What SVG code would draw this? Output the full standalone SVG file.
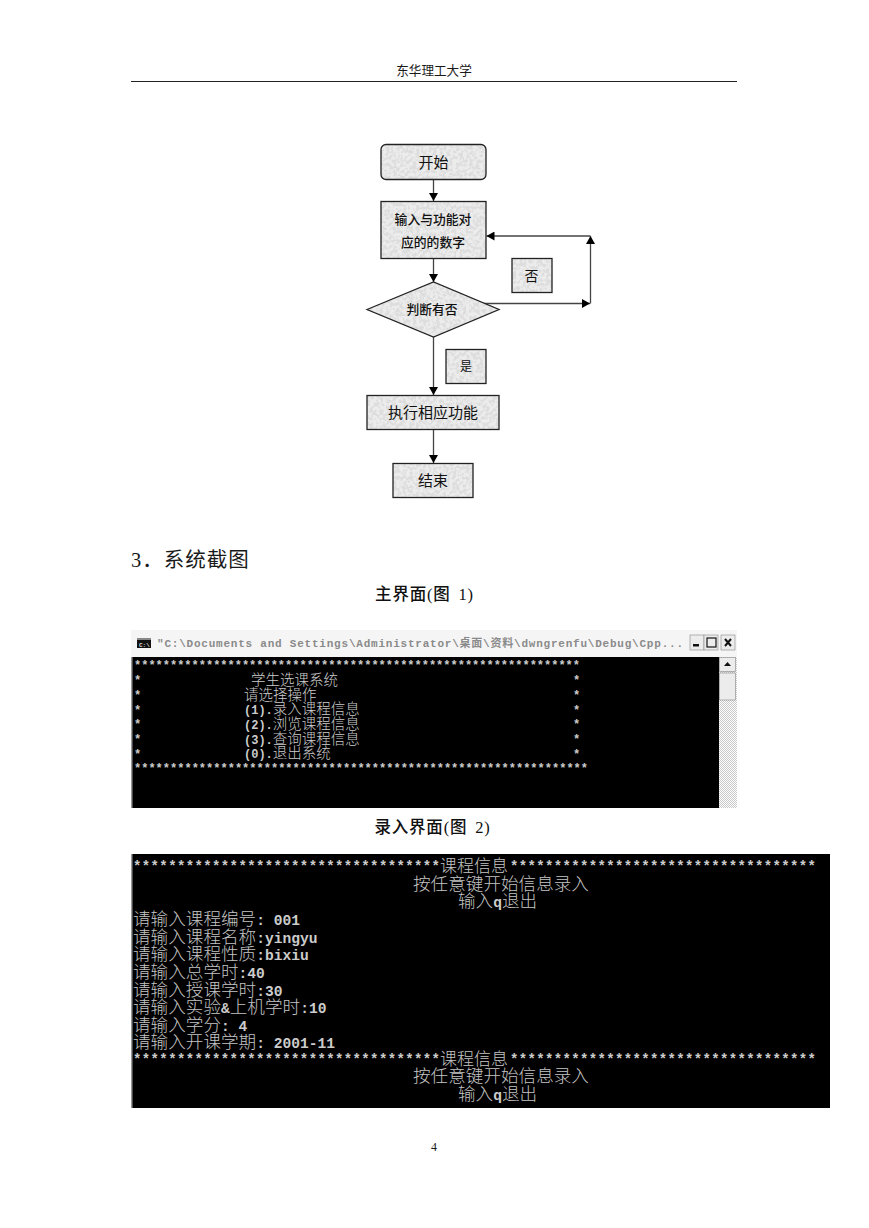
<svg xmlns="http://www.w3.org/2000/svg" width="869" height="1228" viewBox="0 0 869 1228">
<style>
text{font-family:"Liberation Serif","Noto Sans CJK SC",serif}
.n{fill:#ececec}
.o{fill:none;stroke:#222;stroke-width:1.3}
.lb{font-family:"Noto Sans CJK SC",sans-serif;fill:#111;text-anchor:middle}
.c{fill:none;stroke:#444;stroke-width:1.3}
.cn{font-family:"Noto Sans CJK SC",sans-serif;font-size:14.5px;fill:#ccc;font-weight:300}
.cb{font-family:"Noto Sans CJK SC",sans-serif;font-size:17.6px;fill:#c4c4c4;font-weight:300}
.m1{font-family:"Liberation Mono",monospace;font-weight:700;font-size:12px;fill:#ccc}
.m2{font-family:"Liberation Mono",monospace;font-weight:700;font-size:14.6px;fill:#ccc}
.st{font-family:"Liberation Mono",monospace;font-weight:700;fill:#ccc}
.h{fill:#1a1a1a}
.cap{font-size:16.500px;font-weight:500;letter-spacing:.8px;word-spacing:3px;fill:#111;text-anchor:middle}
.btn{fill:#ececec;stroke:#888;stroke-width:.6}
</style>
<defs>
<marker id="a" markerUnits="userSpaceOnUse" markerWidth="9" markerHeight="9" refX="8" refY="4.5" orient="auto"><path d="M0 0L8 4.5L0 9Z" fill="#000"/></marker>
<pattern id="d" width="2" height="2" patternUnits="userSpaceOnUse"><rect width="2" height="2" fill="#fff"/><rect width="1" height="1" fill="#c8c8c8"/><rect x="1" y="1" width="1" height="1" fill="#c8c8c8"/></pattern>
<filter id="tex" x="0" y="0" width="100%" height="100%"><feTurbulence type="fractalNoise" baseFrequency=".3" numOctaves="2" seed="4"/><feColorMatrix values="0 0 0 0 .72  0 0 0 0 .72  0 0 0 0 .72  6 0 0 0 -2.600"/><feComposite in2="SourceGraphic" operator="in" result="n"/><feMerge><feMergeNode in="SourceGraphic"/><feMergeNode in="n"/></feMerge></filter>
</defs>
<rect width="869" height="1228" fill="#fff"/>

<g id="header">
<text x="434" y="75" font-size="12.600" text-anchor="middle" class="h">东华理工大学</text>
<line x1="131" y1="81.500" x2="737" y2="81.500" stroke="#222" stroke-width="1"/>
</g>

<g id="connectors">
<path class="c" d="M433.500 179V201" marker-end="url(#a)"/>
<path class="c" d="M433.500 258V282" marker-end="url(#a)"/>
<path class="c" d="M433.500 337V395" marker-end="url(#a)"/>
<path class="c" d="M433.500 429V463" marker-end="url(#a)"/>
<path class="c" d="M483 303.500H590" marker-end="url(#a)"/>
<path class="c" d="M590.500 303.500V236" marker-end="url(#a)"/>
<path class="c" d="M590.500 236H486.500" marker-end="url(#a)"/>
</g>

<g id="node-start"><rect class="n" filter="url(#tex)" x="381" y="144.500" width="105" height="35" rx="5"/><rect class="o" x="381" y="144.500" width="105" height="35" rx="5"/><text class="lb" x="433.500" y="168" font-size="15">开始</text></g>
<g id="node-input"><rect class="n" filter="url(#tex)" x="381" y="201.500" width="105" height="57"/><rect class="o" x="381" y="201.500" width="105" height="57"/><text class="lb" x="433" y="224" font-size="12.800" font-weight="500">输入与功能对</text><text class="lb" x="433" y="247" font-size="12.800" font-weight="500">应的的数字</text></g>
<g id="node-decision"><polygon class="n" filter="url(#tex)" points="367,309.500 433.500,282 499,309.500 433.500,337"/><polygon class="o" points="367,309.500 433.500,282 499,309.500 433.500,337"/><text class="lb" x="432" y="314" font-size="12.800" font-weight="500">判断有否</text></g>
<g id="node-no"><rect class="n" filter="url(#tex)" x="512" y="258.500" width="40" height="34"/><rect class="o" x="512" y="258.500" width="40" height="34"/><text class="lb" x="531.500" y="281" font-size="14">否</text></g>
<g id="node-yes"><rect class="n" filter="url(#tex)" x="446" y="349.500" width="40" height="34"/><rect class="o" x="446" y="349.500" width="40" height="34"/><text class="lb" x="466" y="371" font-size="12">是</text></g>
<g id="node-exec"><rect class="n" filter="url(#tex)" x="367" y="395.500" width="132" height="34"/><rect class="o" x="367" y="395.500" width="132" height="34"/><text class="lb" x="433" y="418" font-size="15">执行相应功能</text></g>
<g id="node-end"><rect class="n" filter="url(#tex)" x="393" y="463.500" width="80" height="34"/><rect class="o" x="393" y="463.500" width="80" height="34"/><text class="lb" x="433" y="486" font-size="15">结束</text></g>

<g id="captions">
<text x="131" y="567" font-size="20.500" letter-spacing="1" class="h">3．系统截图</text>
<text x="424.500" y="600" class="cap">主界面(图 1)</text>
<text x="432.500" y="833" class="cap">录入界面(图 2)</text>
<text x="434" y="1151" font-size="12" text-anchor="middle" class="h">4</text>
</g>

<g id="screen-1">
<rect x="131" y="630" width="606" height="27" fill="#f5f5f5"/>
<rect x="132" y="657" width="587" height="151" fill="#000"/>
<rect x="131" y="657" width="1.500" height="151" fill="#999"/>
<rect x="719" y="657" width="18" height="151" fill="url(#d)"/>
<rect x="137" y="638" width="14" height="10" fill="#111"/><rect x="137" y="638" width="14" height="2" fill="#888"/><text x="139" y="647" style="font-family:'Liberation Mono',monospace;font-size:6px;font-weight:700;fill:#ddd">C:\</text>
<text x="157" y="647" font-size="11" font-weight="700" fill="#8a8a8a" textLength="526" lengthAdjust="spacing" style="font-family:'Liberation Mono','Noto Sans CJK SC',monospace">"C:\Documents and Settings\Administrator\桌面\资料\dwngrenfu\Debug\Cpp...</text>
<rect class="btn" x="690" y="635" width="14" height="15"/><rect x="693" y="644" width="6" height="2.500" fill="#111"/>
<rect class="btn" x="704" y="635" width="14" height="15"/><rect x="707" y="638" width="9" height="9" fill="none" stroke="#111" stroke-width="1.200"/>
<rect class="btn" x="721" y="635" width="14" height="15"/><path d="M725 639L731 646M731 639L725 646" stroke="#111" stroke-width="2"/>
<rect class="btn" x="719.500" y="657.500" width="16" height="14"/><path d="M724 666H731L727.500 662Z" fill="#111"/>
<rect class="btn" x="719.500" y="673" width="16" height="27"/>
<text class="st" x="134" y="669" font-size="12" textLength="446">**************************************************************</text>
<text class="st" x="134" y="772" font-size="12" textLength="454">***************************************************************</text>
<g>
<text class="m1" x="134" y="684">*</text><text class="m1" x="134" y="699">*</text><text class="m1" x="134" y="714">*</text><text class="m1" x="134" y="728">*</text><text class="m1" x="134" y="743">*</text><text class="m1" x="134" y="758">*</text>
<text class="m1" x="573" y="684">*</text><text class="m1" x="573" y="699">*</text><text class="m1" x="573" y="714">*</text><text class="m1" x="573" y="728">*</text><text class="m1" x="573" y="743">*</text><text class="m1" x="573" y="758">*</text>
</g>
<text class="cn" x="251" y="684.500">学生选课系统</text>
<text class="cn" x="244" y="699.500">请选择操作</text>
<text class="cn" x="244" y="714"><tspan class="m1">(1).</tspan>录入课程信息</text>
<text class="cn" x="244" y="729"><tspan class="m1">(2).</tspan>浏览课程信息</text>
<text class="cn" x="244" y="743.500"><tspan class="m1">(3).</tspan>查询课程信息</text>
<text class="cn" x="244" y="758"><tspan class="m1">(0).</tspan>退出系统</text>
</g>

<g id="screen-2">
<rect x="132" y="854" width="698" height="254" fill="#000"/>
<rect x="131" y="854" width="1.500" height="254" fill="#999"/>
<text class="st" x="133" y="871" font-size="14" textLength="307">***********************************</text>
<text class="cb" x="440" y="871.500" style="font-size:17px">课程信息</text>
<text class="st" x="510" y="871" font-size="14" textLength="306">***********************************</text>
<text class="cb" x="413" y="889.500">按任意键开始信息录入</text>
<text class="cb" x="458" y="907">输入<tspan class="m2">q</tspan>退出</text>
<text class="cb" x="133" y="924.500">请输入课程编号<tspan class="m2">: 001</tspan></text>
<text class="cb" x="133" y="942.500">请输入课程名称<tspan class="m2">:yingyu</tspan></text>
<text class="cb" x="133" y="960">请输入课程性质<tspan class="m2">:bixiu</tspan></text>
<text class="cb" x="133" y="977.500">请输入总学时<tspan class="m2">:40</tspan></text>
<text class="cb" x="133" y="995.500">请输入授课学时<tspan class="m2">:30</tspan></text>
<text class="cb" x="133" y="1012.500">请输入实验<tspan class="m2">&amp;</tspan>上机学时<tspan class="m2">:10</tspan></text>
<text class="cb" x="133" y="1030.500">请输入学分<tspan class="m2">: 4</tspan></text>
<text class="cb" x="133" y="1047.500">请输入开课学期<tspan class="m2">: 2001-11</tspan></text>
<text class="st" x="133" y="1064" font-size="14" textLength="307">***********************************</text>
<text class="cb" x="440" y="1064.500" style="font-size:17px">课程信息</text>
<text class="st" x="510" y="1064" font-size="14" textLength="306">***********************************</text>
<text class="cb" x="413" y="1081.500">按任意键开始信息录入</text>
<text class="cb" x="458" y="1099.500">输入<tspan class="m2">q</tspan>退出</text>
</g>
</svg>
